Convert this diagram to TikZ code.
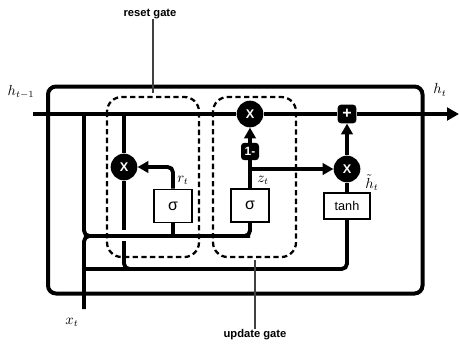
\documentclass[tikz,border=0pt]{standalone}
\usepackage{fontspec}
\setsansfont{Liberation Sans}
\usetikzlibrary{arrows.meta}
\begin{document}
\begin{tikzpicture}[x=0.75pt,y=-0.75pt,
  wire/.style={line width=2.9pt},
  tip/.style={-{Triangle[length=8pt,width=8.5pt]}},
  bigtip/.style={-{Triangle[length=9pt,width=9.5pt]}},
  gatebox/.style={line width=1.7pt, dash pattern=on 4pt off 2.5pt, rounded corners=11pt},
  mulnode/.style={circle, fill=black, minimum size=20pt, inner sep=0pt, text=white, font=\sffamily\bfseries\fontsize{9.5}{10}\selectfont},
  sigbox/.style={draw, line width=1.1pt, fill=white, minimum width=28.5pt, minimum height=25pt, inner sep=0pt, font=\sffamily\fontsize{12}{13}\selectfont},
  blkbox/.style={fill=black, rounded corners=2.5pt, text=white, font=\sffamily\bfseries\fontsize{9}{10}\selectfont, minimum width=13.5pt, minimum height=13pt, inner sep=0pt},
  lbl/.style={font=\sffamily\bfseries\fontsize{8.4}{10}\selectfont, inner sep=0pt},
  var/.style={font=\fontsize{10.5}{12}\selectfont, inner sep=0pt},
  pointer/.style={line width=0.8pt, draw=black!75}
]
\useasboundingbox (0,0) rectangle (459,343);

% gates
\draw[gatebox] (107,97) rectangle (199,257);
\draw[gatebox] (213,97) rectangle (296,257);

% outer frame
\draw[line width=3pt, rounded corners=6pt] (48,86.5) rectangle (422.5,293.5);

% coordinates
\coordinate (hin) at (33,114);
\coordinate (hout) at (459,114);
\coordinate (j1) at (84,114);
\coordinate (c1) at (250,236);
\coordinate (xt) at (84,309);
\coordinate (c3) at (84,269);
\coordinate (j2) at (124,114);
\coordinate (e1) at (124,230);
\coordinate (e2) at (124,241);
\coordinate (e3) at (140,269);
\coordinate (zb) at (250,169);
\coordinate (rgEnd) at (153,93);
\coordinate (ugEnd) at (255,260);

% nodes
\node[mulnode] (mulR) at (124,167) {X};
\node[sigbox] (sigR) at (173,206) {σ};
\node[sigbox] (sigZ) at (250,205.5) {σ};
\node[blkbox] (one) at (250,151.5) {1-};
\node[mulnode] (mulZ) at (250,114) {X};
\node[mulnode] (mulH) at (347,169) {X};
\node[sigbox, minimum width=34.5pt, minimum height=19.5pt, font=\sffamily\fontsize{9.5}{10}\selectfont] (tanh) at (347,206) {tanh};
\node[blkbox, minimum height=14pt, minimum width=14pt, font=\sffamily\bfseries\fontsize{12}{12}\selectfont] (plus) at (347,114) {+};

% main line
\draw[wire, line width=3pt] (hin) -- (mulZ.west);
\draw[wire, line width=3pt] (mulZ.east) -- (plus.west);
\draw[wire, line width=3pt, bigtip] (plus.east) -- (hout);

% connectors
\draw[wire, rounded corners=4pt] (j1) |- (c1) -- (sigZ.south);
\draw[wire] (sigR.south) -- (sigR.south |- c1);
\draw[wire, rounded corners=4pt] (xt) |- (c1);
\draw[wire, rounded corners=4pt] (c3) -| (tanh.south);
\draw[wire] (j2) -- (mulR.north);
\draw[wire] (mulR.south) -- (e1);
\draw[wire, rounded corners=4pt] (e2) |- (e3);
\draw[wire, tip, rounded corners=4pt] (sigR.north) |- (mulR.east);
\draw[wire] (sigZ.north) -- (one.south);
\draw[wire, tip] (one.north) -- (mulZ.south);
\draw[wire, tip] (zb) -- (mulH.west);
\draw[wire] (tanh.north) -- (mulH.south);
\draw[wire, tip] (mulH.north) -- (plus.south);

% gate labels
\node[lbl] (rg) at (150,14) {reset gate};
\node[lbl] (ug) at (255,335) {update gate};
\draw[pointer] (rg.south -| rgEnd) -- (rgEnd);
\draw[pointer] (ug.north -| ugEnd) -- (ugEnd);

% variable labels
\node[var] (lhin) at (21,92) {$h_{t-1}$};
\node[var] (lhout) at (440,90) {$h_t$};
\node[var] (lxt) at (72,322) {$x_t$};
\node[var] (lrt) at (183,180) {$r_t$};
\node[var] (lzt) at (263,180) {$z_t$};
\node[var] (lht) at (372,183) {$\tilde{h}_t$};
\end{tikzpicture}
\end{document}
